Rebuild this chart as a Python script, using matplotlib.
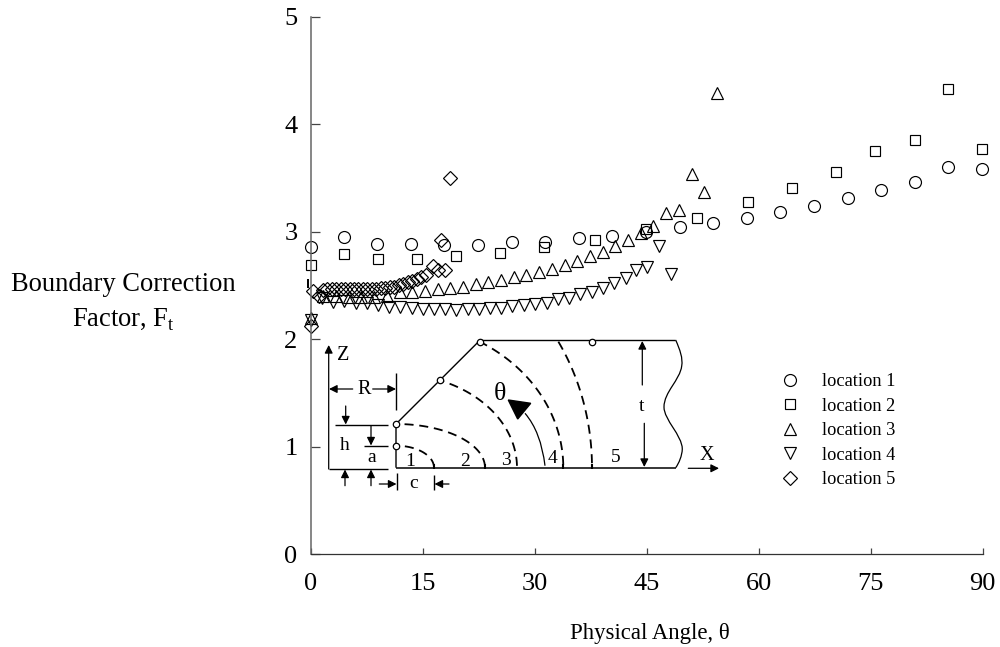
import numpy as np
import matplotlib
matplotlib.use('Agg')
from matplotlib import pyplot as plt
from matplotlib.path import Path
from matplotlib.patches import PathPatch, Polygon

plt.rcParams['font.family'] = ['Liberation Serif', 'DejaVu Serif']
plt.rcParams['mathtext.fontset'] = 'custom'
plt.rcParams['mathtext.rm'] = 'Liberation Serif'

# Read in data (angle, correction factor) for each location
theta_1 = [0.0, 4.4, 8.9, 13.4, 17.9, 22.4, 26.9, 31.4, 35.9, 40.4, 44.9, 49.4,
           53.9, 58.4, 62.9, 67.4, 71.9, 76.4, 80.9, 85.4, 89.9]
ft_1 = [2.86, 2.95, 2.89, 2.885, 2.875, 2.875, 2.90, 2.90, 2.94, 2.96, 3.00, 3.04,
        3.085, 3.125, 3.185, 3.24, 3.315, 3.385, 3.465, 3.60, 3.585]

theta_2 = [0.0, 4.5, 9.0, 14.2, 19.4, 25.3, 31.3, 38.1, 44.9, 51.7, 58.5, 64.5,
           70.4, 75.6, 80.9, 85.4, 89.9]
ft_2 = [2.69, 2.79, 2.745, 2.75, 2.77, 2.80, 2.86, 2.925, 3.03, 3.13, 3.28, 3.41,
        3.56, 3.755, 3.85, 4.33, 3.77]

theta_3 = [0.0, 1.7, 3.4, 5.1, 6.8, 8.5, 10.2, 11.9, 13.6, 15.3, 17.0, 18.7, 20.4,
           22.1, 23.8, 25.5, 27.2, 28.9, 30.6, 32.3, 34.0, 35.7, 37.4, 39.1, 40.8,
           42.5, 44.2, 45.9, 47.6, 49.3, 51.0, 52.7, 54.4]
ft_3 = [2.20, 2.40, 2.40, 2.395, 2.39, 2.39, 2.40, 2.435, 2.44, 2.45, 2.465, 2.475,
        2.49, 2.51, 2.53, 2.55, 2.575, 2.60, 2.63, 2.65, 2.69, 2.73, 2.77, 2.81,
        2.87, 2.92, 2.99, 3.05, 3.17, 3.20, 3.54, 3.365, 4.29]

theta_4 = [0.0, 1.5, 3.0, 4.5, 6.0, 7.5, 9.0, 10.5, 12.0, 13.5, 15.0, 16.5, 18.0,
           19.5, 21.0, 22.5, 24.0, 25.5, 27.0, 28.5, 30.0, 31.6, 33.1, 34.6, 36.1,
           37.7, 39.2, 40.6, 42.2, 43.6, 45.1, 46.6, 48.2]
ft_4 = [2.18, 2.38, 2.35, 2.355, 2.34, 2.335, 2.32, 2.30, 2.30, 2.29, 2.285, 2.28,
        2.28, 2.275, 2.28, 2.285, 2.29, 2.295, 2.31, 2.32, 2.33, 2.34, 2.37, 2.385,
        2.42, 2.44, 2.48, 2.52, 2.57, 2.64, 2.67, 2.87, 2.61]

theta_5 = [0.0, 0.3, 1.1, 1.65, 2.2, 2.8, 3.4, 4.0, 4.6, 5.2, 5.8, 6.4, 7.0, 7.6,
           8.2, 8.8, 9.4, 10.0, 10.6, 11.2, 11.8, 12.4, 13.0, 13.6, 14.2, 14.8,
           15.4, 16.4, 17.0, 17.45, 18.0, 18.6]
ft_5 = [2.12, 2.45, 2.40, 2.46, 2.465, 2.465, 2.465, 2.465, 2.465, 2.465, 2.465,
        2.465, 2.465, 2.465, 2.47, 2.47, 2.475, 2.48, 2.485, 2.49, 2.50, 2.515,
        2.53, 2.545, 2.56, 2.575, 2.60, 2.68, 2.645, 2.925, 2.64, 3.50]

series = [(theta_1, ft_1, 'o', 8.6, 'location 1'),
          (theta_2, ft_2, 's', 7.6, 'location 2'),
          (theta_3, ft_3, '^', 8.6, 'location 3'),
          (theta_4, ft_4, 'v', 8.6, 'location 4'),
          (theta_5, ft_5, 'D', 6.8, 'location 5')]

xticks = [0, 15, 30, 45, 60, 75, 90]
yticks = [0, 1, 2, 3, 4, 5]

# Plot:
fig = plt.figure(figsize=(10, 6.47), dpi=100)
ax = fig.add_axes([0.3107, 1 - 554.3 / 647, 0.672, 537.6 / 647])

for x, y, marker, size, name in series:
    ax.plot(x, y, linestyle='none', marker=marker, markersize=size,
            markerfacecolor='none', markeredgecolor='black',
            markeredgewidth=0.85, clip_on=False, label=name)

ax.set_xlim(0, 90)
ax.set_ylim(0, 5)
ax.set_xticks(xticks)
ax.set_yticks(yticks)
ax.tick_params(axis='x', direction='in', length=4.3, width=0.9, color='#444444',
               labelsize=19, pad=13.5)
ax.tick_params(axis='y', direction='in', length=6.5, width=0.9, color='#444444',
               labelsize=19, pad=9.5)
for side in ['top', 'right']:
    ax.spines[side].set_visible(False)
ax.spines['left'].set_linewidth(1.1)
ax.spines['left'].set_color('#666666')
ax.spines['bottom'].set_linewidth(0.9)
ax.spines['bottom'].set_color('#333333')

ax.set_xlabel('Physical Angle, \u03b8', fontsize=16.4)
ax.xaxis.set_label_coords(0.504, -0.128)
ax.set_ylabel('Boundary Correction\nFactor, F$_{\\mathrm{t}}$', rotation=0,
              fontsize=19.1, ha='center', va='center', linespacing=1.45)
ax.yaxis.set_label_coords(-0.279, 0.469)

ax.legend(loc='upper left', bbox_to_anchor=(0.686, 0.337), frameon=False,
          fontsize=13.2, labelspacing=0.41, handletextpad=0.72, numpoints=1,
          borderpad=0, borderaxespad=0)

# The specimen sketch is drawn on a second axes that uses figure pixels
sk = fig.add_axes([0, 0, 1, 1])
sk.set_xlim(0, 1000)
sk.set_ylim(647, 0)
sk.axis('off')
sk.patch.set_visible(False)


def line(xs, ys, lw=1.0):
    sk.plot(xs, ys, color='black', linewidth=lw, solid_capstyle='butt')


def arrow(x0, y0, x1, y1):
    sk.annotate('', xy=(x1, y1), xytext=(x0, y0),
                arrowprops=dict(arrowstyle='-|>', color='black', lw=0.9,
                                mutation_scale=12, shrinkA=0, shrinkB=0))


def label(x, y, s, size=14):
    sk.text(x, y, s, fontsize=size, ha='center', va='center')


def arc(a, b, x_end):
    # quarter ellipse about the notch root, from the bottom edge to x_end
    start = np.arccos(min(1, (x_end - 396) / a))
    t = np.linspace(0.02, start, 60)
    sk.plot(396 + a * np.cos(t), 467.7 - b * np.sin(t), color='black',
            linewidth=1.3, dashes=(5, 3.2))


# outline
line([396, 396, 479.7, 675.7], [467.7, 424, 340.5, 340.5], lw=1.0)
line([396, 675.7], [467.7, 467.7], lw=1.1)
line([396, 396], [373, 410])
line([328.7, 388.3], [469, 469])
line([335, 388.3], [425, 425])
line([364, 388.3], [445.7, 445.7])
line([396.7, 396.7], [473, 490])
line([434.3, 434.3], [475, 490])
sk.add_patch(PathPatch(Path(
    [(675.7, 340), (680, 350), (683, 358), (681.7, 366), (680, 380), (664, 392),
     (664, 407), (664, 420), (682, 435), (682.3, 449), (682, 456), (679, 463),
     (675.7, 467.7)],
    [Path.MOVETO] + [Path.CURVE4] * 12), fill=False, linewidth=0.9))

# crack fronts
arc(38, 22, 400)
arc(89, 43.7, 400)
arc(121, 93.7, 439.7)
arc(167.3, 145.5, 479.7)
arc(196, 225, 556.7)
for xt in [434, 485, 563.3, 591.7]:
    line([xt, xt], [464, 468.5], lw=1.5)

# angle sweep
sk.add_patch(PathPatch(Path([(545, 465.7), (541, 432), (525, 413.3)],
                            [Path.MOVETO, Path.CURVE3, Path.CURVE3]),
                       fill=False, linewidth=0.9))
sk.add_patch(Polygon([(508.3, 400), (530.7, 403.3), (517.7, 419)], color='black'))

# dimension arrows
arrow(328.7, 469, 328.7, 345)
arrow(352.7, 389, 329, 389)
arrow(372.7, 389, 396, 389)
arrow(345.7, 406, 345.7, 424.5)
arrow(371, 426, 371, 445.5)
arrow(345, 485.7, 345, 469.5)
arrow(371, 485.7, 371, 469.5)
arrow(379.3, 484, 396.5, 484)
arrow(449, 484, 434.5, 484)
arrow(642.3, 385, 642.3, 341)
arrow(644.3, 423.3, 644.3, 467)
arrow(688.3, 468.3, 719, 468.3)

# measurement points
sk.plot([396, 396, 439.7, 479.7, 591.7], [445.7, 424, 380.3, 341.7, 341.7],
        linestyle='none', marker='o', markersize=4.6, markerfacecolor='white',
        markeredgecolor='black', markeredgewidth=0.9)

for x, y, s in [(344.3, 445, 'h'), (371.7, 458, 'a'), (410, 461, '1'),
                (465, 461, '2'), (506, 460.3, '3'), (552.3, 458.3, '4'),
                (616, 457.7, '5'), (414, 483, 'c'), (641.7, 406.5, 't')]:
    label(x, y, s)
label(343, 355, 'Z', 14.5)
label(364, 389, 'R', 14.5)
label(706.7, 455, 'X', 14.5)
label(500, 394, '\u03b8', 18.5)

# stray glyph fragment left of the axis in the source
line([308, 308], [279, 288], lw=1.4)

plt.savefig('out.png', dpi=100)
